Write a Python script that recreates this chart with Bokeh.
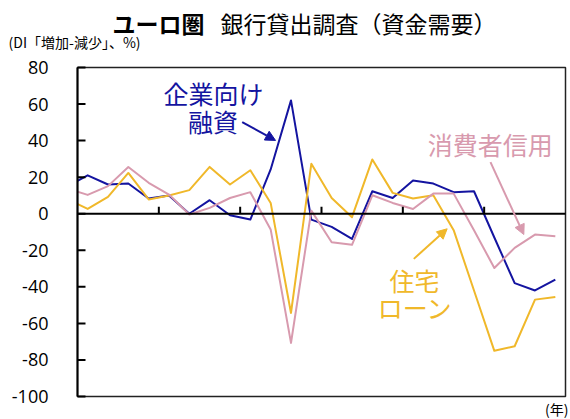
import numpy as np
from bokeh.plotting import figure
from bokeh.models import Range1d, Label, Arrow, NormalHead
from bokeh.core.properties import value
from bokeh.embed import file_html
from bokeh.resources import INLINE

# Quarterly net DI (%), first value lies just left of the visible axis (masked)
corporate = [15, 21, 16, 16.5, 8.3, 10, 0, 7.4, -0.8, -3.2, 24.2, 62, -3.2, -7.2, -13.8,
             12.3, 8.6, 18.2, 16.5, 11.8, 12.3, -13, -38, -42, -36]
housing = [8, 2.6, 9.2, 22.3, 7.8, 10, 12.9, 25.6, 16, 23.8, 5.9, -54.3, 27.3, 8.6, -1.9,
           29.7, 11.4, 8.3, 10.1, -9, -42, -75, -72.5, -47, -45.5]
consumer = [13.8, 10.3, 15.1, 25.6, 16.9, 10.5, -0.4, 3.2, 8.6, 11.8, -8.6, -70.7, 1.7, -15.6, -17,
            10.1, 5.9, 2.6, 11, 11, -9, -29.7, -18.7, -11.4, -12.3]
y_ticks = [-100, -80, -60, -40, -20, 0, 20, 40, 60, 80]
y_tick_labels = [str(t) for t in y_ticks]
year_ticks = [4, 8, 12, 16, 20]

Y_MIN, Y_MAX = -100, 80
X_MIN, X_MAX = 0, 24
x = np.arange(len(corporate)) - 0.5

BLUE = "#1414a0"
YELLOW = "#f0b82a"
PINK = "#d89aae"
CJK = "Noto Sans CJK JP"

W, H = 570, 419
QS = 488 / 24         # px per quarter
VS = 329 / 180        # px per DI point
p = figure(width=W, height=H, output_backend="svg", toolbar_location=None,
           x_range=Range1d(X_MIN - 77 / QS, X_MAX + 5 / QS),
           y_range=Range1d(Y_MIN - 23 / VS, Y_MAX + 67 / VS),
           min_border=0)
p.axis.visible = False
p.grid.visible = False
p.outline_line_color = None
p.background_fill_color = "white"
p.border_fill_color = "white"

for ser, col in [(corporate, BLUE), (housing, YELLOW), (consumer, PINK)]:
    p.line(x, ser, line_color=col, line_width=2, line_join="round")

# mask the part of the series lying left of the value axis
p.quad(left=[x[0] - 0.1], right=[X_MIN], bottom=[Y_MIN], top=[Y_MAX],
       fill_color="white", line_color=None)

# plot border, value axis, zero line and ticks
p.quad(left=[X_MIN], right=[X_MAX], bottom=[Y_MIN], top=[Y_MAX],
       fill_alpha=0, line_color="#222222", line_width=1.5)
p.segment(x0=[X_MIN], x1=[X_MIN], y0=[Y_MIN], y1=[Y_MAX], line_color="black", line_width=2)
p.segment(x0=[X_MIN], x1=[X_MAX], y0=[0], y1=[0], line_color="black", line_width=2)
p.segment(x0=[X_MIN] * len(y_ticks), x1=[X_MIN + 8 / QS] * len(y_ticks), y0=y_ticks, y1=y_ticks,
          line_color="black", line_width=2)
p.segment(x0=year_ticks, x1=year_ticks, y0=[0] * len(year_ticks), y1=[7 / VS] * len(year_ticks),
          line_color="black", line_width=2)
p.text(x=[X_MIN - 29 / QS] * len(y_ticks), y=y_ticks, text=y_tick_labels,
       text_align="right", text_baseline="middle", text_font=value("Open Sans"),
       text_font_size="18px", text_color="black")

# Title and units
p.add_layout(Label(x=1.72, y=104.35, text="ユーロ圏", text_font=CJK, text_font_size="23px",
                   text_font_style="bold", text_baseline="middle", text_color="black"))
p.add_layout(Label(x=7.03, y=104.35, text="銀行貸出調査（資金需要）", text_font=CJK, text_font_size="23px",
                   text_baseline="middle", text_color="black"))
p.add_layout(Label(x=-3.39, y=93.7, text="(DI「増加-減少」、%)", text_font=CJK, text_font_size="14px",
                   text_baseline="middle", text_color="black"))
p.add_layout(Label(x=24.15, y=-106.8, text="(年)", text_font=CJK, text_font_size="14px",
                   text_align="right", text_baseline="middle", text_color="black"))

# Series annotations
def ann(xv, yv, txt, col):
    p.add_layout(Label(x=xv, y=yv, text=txt, text_font=CJK, text_font_size="25px",
                       text_align="center", text_baseline="middle", text_color=col))

ann(6.69, 66.0, "企業向け", BLUE)
ann(6.66, 51.0, "融資", BLUE)
ann(20.30, 37.9, "消費者信用", PINK)
ann(16.57, -36.5, "住宅", YELLOW)
ann(16.61, -51.1, "ローン", YELLOW)

for (xs, ys, xe, ye, col) in [(8.10, 50.1, 9.74, 40.1, BLUE),
                              (20.31, 28.2, 21.95, -11.4, PINK),
                              (16.54, -24.7, 18.18, -8.25, YELLOW)]:
    p.add_layout(Arrow(end=NormalHead(size=10, fill_color=col, line_color=col),
                       x_start=xs, y_start=ys, x_end=xe, y_end=ye,
                       line_color=col, line_width=2))

open("out.html", "w").write(file_html(p, INLINE))
